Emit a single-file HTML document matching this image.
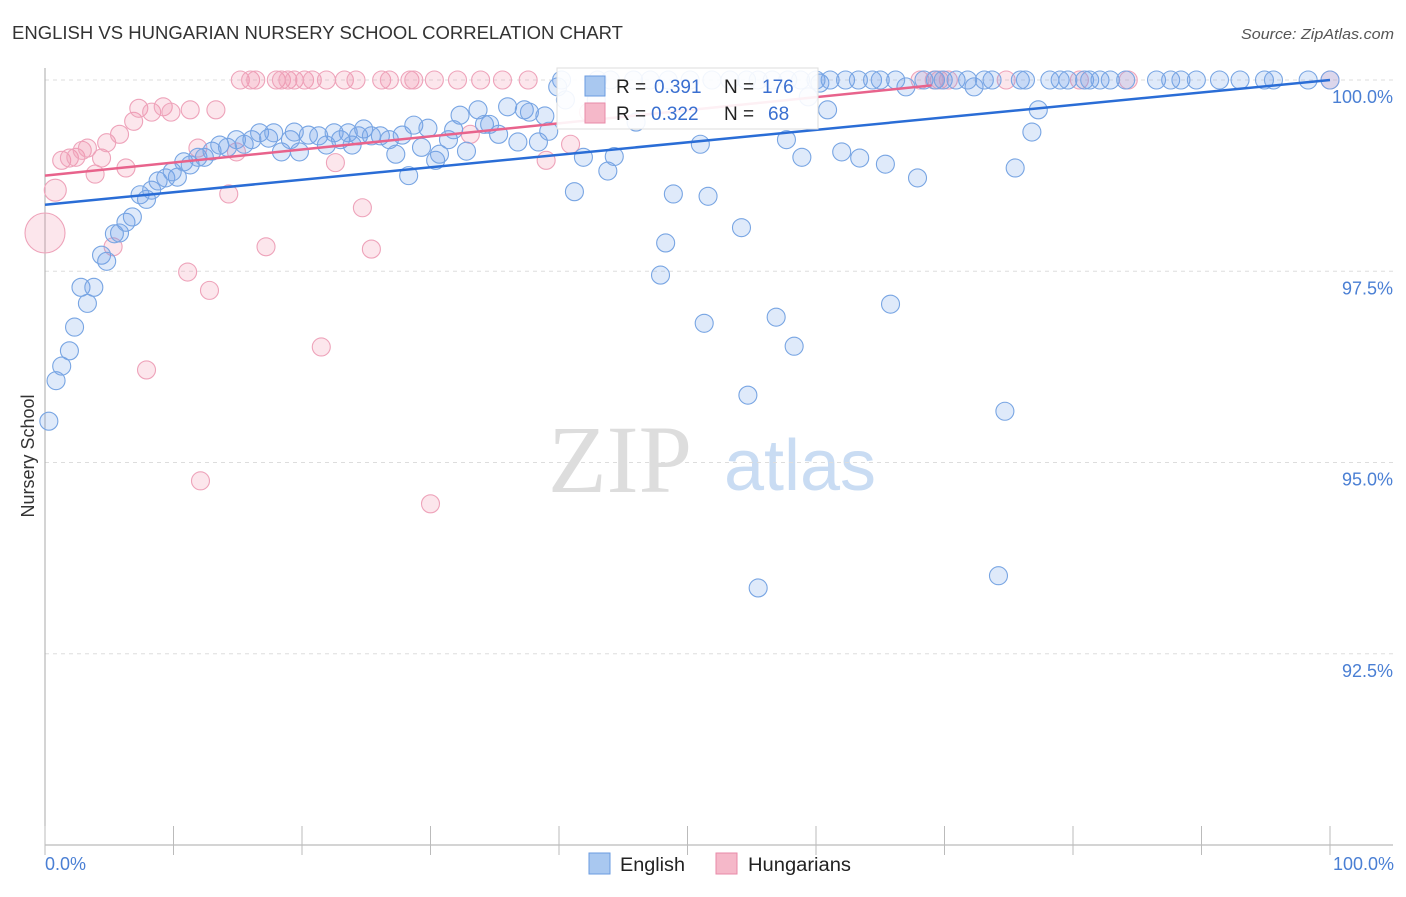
<!DOCTYPE html>
<html><head><meta charset="utf-8"><style>
body{margin:0;background:#fff;font-family:"Liberation Sans",sans-serif;}
</style></head><body>
<svg width="1406" height="892" viewBox="0 0 1406 892" xmlns="http://www.w3.org/2000/svg" font-family="Liberation Sans, sans-serif">
<text x="12" y="39" font-size="18" fill="#333" textLength="611" lengthAdjust="spacingAndGlyphs">ENGLISH VS HUNGARIAN NURSERY SCHOOL CORRELATION CHART</text>
<text x="1241" y="39" font-size="15" fill="#555" textLength="153" lengthAdjust="spacingAndGlyphs" font-style="italic">Source: ZipAtlas.com</text>
<text x="620" y="492" font-size="96" fill="#ddd" font-family="Liberation Serif, serif" text-anchor="middle">ZIP</text>
<text x="800" y="490" font-size="72" fill="#c9dcf3" text-anchor="middle">atlas</text>
<g id="grid"></g>
<g id="axes"></g>
<g id="pts"></g>
<g id="trend"></g>
<text transform="translate(34,456) rotate(-90)" font-size="18" fill="#333" text-anchor="middle">Nursery School</text>
<text x="45" y="870" font-size="18" fill="#4a7fd4">0.0%</text>
<text x="1394" y="870" font-size="18" fill="#4a7fd4" text-anchor="end">100.0%</text>
<g>
<rect x="557" y="68" width="261" height="61" fill="#fff" fill-opacity="0.9" stroke="#ddd"/>
<rect x="585" y="76" width="20" height="20" fill="#a9c8f0" stroke="#6a9be0"/>
<rect x="585" y="103" width="20" height="20" fill="#f5b8c9" stroke="#e88aa8"/>
<text x="616" y="93" font-size="19" fill="#222"><tspan>R = </tspan><tspan x="654" fill="#3a6fd0">0.391</tspan><tspan x="724">N = </tspan><tspan x="762" fill="#3a6fd0">176</tspan></text>
<text x="616" y="120" font-size="19" fill="#222"><tspan>R = </tspan><tspan x="651" fill="#3a6fd0">0.322</tspan><tspan x="724">N = </tspan><tspan x="768" fill="#3a6fd0">68</tspan></text>
</g>
<g><rect x="589" y="853" width="21" height="21" fill="#a9c8f0" stroke="#6a9be0"/><text x="620" y="871" font-size="19" fill="#222" textLength="65" lengthAdjust="spacingAndGlyphs">English</text></g>
<g><rect x="716" y="853" width="21" height="21" fill="#f5b8c9" stroke="#e88aa8"/><text x="748" y="871" font-size="19" fill="#222" textLength="103" lengthAdjust="spacingAndGlyphs">Hungarians</text></g>
</svg>
<script>
const yTicks=[100,97.5,95,92.5];
const yTickLabels=["100.0%","97.5%","95.0%","92.5%"];
const blueX=[0.3,0.86,1.3,1.9,2.3,3.3,2.8,3.8,4.4,4.8,5.4,5.8,6.3,6.8,7.4,7.9,8.3,8.8,9.4,10.3,9.9,10.8,11.3,11.9,12.4,13.0,13.6,14.2,14.9,15.5,16.1,16.7,17.4,17.8,18.4,19.1,19.4,19.8,20.5,21.3,21.9,22.5,23.0,23.6,23.9,24.4,24.8,25.4,26.1,26.8,27.3,27.8,28.3,28.7,29.3,29.8,30.4,30.7,31.4,31.8,32.3,32.8,33.7,34.2,34.6,35.3,36.0,36.8,37.3,37.7,38.4,38.9,39.2,39.9,40.5,41.2,41.9,42.9,43.8,44.3,46.0,47.9,48.3,48.9,51.0,51.3,51.6,54.2,54.7,55.5,56.9,57.7,58.3,58.9,59.4,60.3,60.9,62.0,63.4,65.4,65.8,67.0,67.9,72.3,74.2,74.7,75.5,76.8,77.3,
40.2,43.0,44.0,45.8,47.1,48.5,50.2,51.9,53.3,54.6,55.5,56.6,57.8,58.8,60.0,61.1,62.3,63.3,64.4,65.0,66.2,68.4,69.3,69.9,70.9,71.8,73.1,73.7,75.9,76.3,78.2,79.0,79.6,80.9,81.3,82.1,82.9,84.1,86.5,87.6,88.4,89.6,91.4,93.0,94.9,95.6,98.3,100];
const blueY=[95.54,96.07,96.26,96.46,96.77,97.08,97.29,97.29,97.71,97.63,97.99,98.0,98.14,98.21,98.5,98.44,98.56,98.68,98.72,98.73,98.8,98.93,98.89,98.99,98.99,99.07,99.15,99.12,99.22,99.16,99.22,99.31,99.24,99.31,99.06,99.22,99.32,99.06,99.28,99.27,99.15,99.31,99.22,99.31,99.15,99.27,99.36,99.27,99.27,99.22,99.03,99.28,98.75,99.41,99.12,99.37,98.95,99.03,99.22,99.35,99.54,99.07,99.61,99.42,99.42,99.29,99.65,99.19,99.61,99.58,99.19,99.53,99.33,99.91,99.74,98.54,98.99,99.74,98.81,99.0,99.45,97.45,97.87,98.51,99.16,96.82,98.48,98.07,95.88,93.36,96.9,99.22,96.52,98.99,99.78,99.96,99.61,99.06,98.98,98.9,97.07,99.91,98.72,99.91,93.52,95.67,98.85,99.32,99.61,
100,100,100,100,100,100,100,100,100,100,100,100,100,100,100,100,100,100,100,100,100,100,100,100,100,100,100,100,100,100,100,100,100,100,100,100,100,100,100,100,100,100,100,100,100,100,100,100];
const pinkX=[0,0.8,1.3,1.9,2.4,2.9,3.3,3.9,4.4,4.8,5.3,5.8,6.3,6.9,7.3,7.9,8.3,9.2,9.8,11.1,11.3,11.9,12.1,12.8,13.3,14.3,14.9,17.2,21.5,22.6,24.7,25.4,30.0,33.1,39.0,40.9,42.3,
15.2,16.0,16.4,18.0,18.4,18.9,19.4,20.2,20.8,21.9,23.3,24.2,26.2,26.8,28.4,28.7,30.3,32.1,33.9,35.6,37.6,68.1,69.2,69.6,70.3,74.8,80.5,84.3,100];
const pinkY=[98.0,98.56,98.95,98.98,98.99,99.08,99.11,98.77,98.98,99.18,97.82,99.29,98.85,99.46,99.63,96.21,99.58,99.65,99.58,97.49,99.61,99.11,94.76,97.25,99.61,98.51,99.06,97.82,96.51,98.92,98.33,97.79,94.46,99.29,98.95,99.16,99.58,
100,100,100,100,100,100,100,100,100,100,100,100,100,100,100,100,100,100,100,100,100,100,100,100,100,100,100,100,100];
const blueTrend=[[0,98.37],[100,100]];
const pinkTrend=[[0,98.75],[69,99.93]];
const NS="http://www.w3.org/2000/svg";
const xs=v=>45+v*12.85, ys=v=>80+(100-v)*76.5;
function mk(tag,attrs,parent){const e=document.createElementNS(NS,tag);for(const k in attrs)e.setAttribute(k,attrs[k]);document.getElementById(parent).appendChild(e);return e;}
yTicks.forEach((t,i)=>{
 const g=mk('line',{x1:45,x2:1393,y1:ys(t),y2:ys(t),stroke:'#ddd','stroke-dasharray':'4,4'},'grid');
 
 
 const tx=mk('text',{x:1393,y:ys(t)+23,'font-size':18,fill:'#4a7fd4','text-anchor':'end'},'grid');
 tx.textContent=yTickLabels[i];
 
 
});
const ax=mk('line',{x1:45,x2:45,y1:68,y2:845,stroke:'#aaa'},'axes');


const bx=mk('line',{x1:45,x2:1393,y1:845,y2:845,stroke:'#aaa'},'axes');


for(let i=0;i<=10;i++){
 const tk=mk('line',{x1:xs(i*10),x2:xs(i*10),y1:826,y2:855,stroke:'#bbb'},'axes');
 
 
}
pinkX.forEach((x,i)=>{
 const r=i==0?20:(i==1?11:9);
 const c=mk('circle',{cx:xs(x),cy:ys(pinkY[i]),r:r,fill:'rgba(240,140,170,0.22)',stroke:'#eea3ba','stroke-width':1.1},'pts');
 
 
});
blueX.forEach((x,i)=>{
 const c=mk('circle',{cx:xs(x),cy:ys(blueY[i]),r:9,fill:'rgba(110,160,230,0.22)',stroke:'#78a5e3','stroke-width':1.1},'pts');
 
 
});
const bl=mk('line',{x1:xs(blueTrend[0][0]),y1:ys(blueTrend[0][1]),x2:xs(blueTrend[1][0]),y2:ys(blueTrend[1][1]),stroke:'#2a6dd6','stroke-width':2.5},'trend');


const pl=mk('line',{x1:xs(pinkTrend[0][0]),y1:ys(pinkTrend[0][1]),x2:xs(pinkTrend[1][0]),y2:ys(pinkTrend[1][1]),stroke:'#e8638c','stroke-width':2.5},'trend');


</script>
</body></html>
